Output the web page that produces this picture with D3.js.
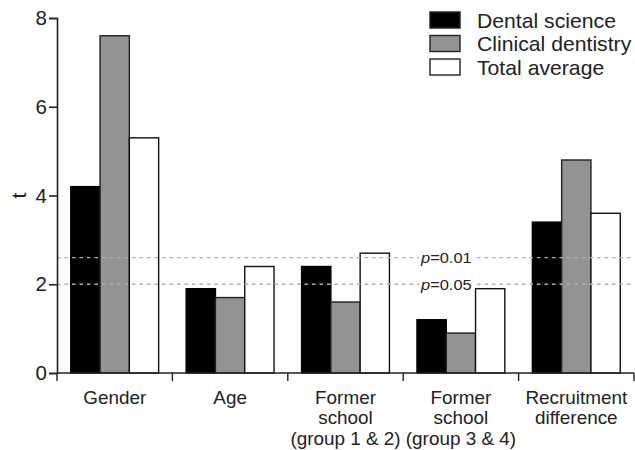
<!DOCTYPE html>
<html>
<head>
<meta charset="utf-8">
<script src="https://cdn.jsdelivr.net/npm/d3@7"></script>
<style>
  html, body { margin: 0; padding: 0; background: #fff; }
  svg text { font-family: "Liberation Sans", Arial, sans-serif; fill: #222; }
</style>
</head>
<body>
<svg id="chart" width="635" height="450"></svg>
<script>
// Categories and the t statistics for each group
const categories = ["Gender", "Age", "Former school 1&2", "Former school 3&4", "Recruitment difference"];
const categoryLabels = [
  ["Gender"],
  ["Age"],
  ["Former", "school", "(group 1 & 2)"],
  ["Former", "school", "(group 3 & 4)"],
  ["Recruitment", "difference"]
];
const seriesNames = ["Dental science", "Clinical dentistry", "Total average"];
const dentalScience = [4.2, 1.9, 2.4, 1.2, 3.4];
const clinicalDentistry = [7.6, 1.7, 1.6, 0.9, 4.8];
const totalAverage = [5.3, 2.4, 2.7, 1.9, 3.6];
const yTicks = [0, 2, 4, 6, 8];
// Critical t values
const thresholds = [
  { p: "0.01", t: 2.6 },
  { p: "0.05", t: 2.0 }
];

const seriesValues = [dentalScience, clinicalDentistry, totalAverage];
const fills = ["#000000", "#939396", "#ffffff"];
const strokes = ["#000000", "#222222", "#111111"];

const svg = d3.select("#chart");
const plotLeft = 57, plotRight = 634, plotTop = 18, plotBottom = 373;

const x = d3.scaleBand().domain(categories).range([plotLeft, plotRight]).padding(0);
const xs = d3.scaleBand().domain(seriesNames).range([0, x.bandwidth()])
  .paddingInner(0).paddingOuter(0.47);
const y = d3.scaleLinear().domain([0, 8]).range([plotBottom, plotTop]);

// Bars
const groups = svg.append("g").selectAll("g")
  .data(categories).join("g")
  .attr("transform", d => `translate(${x(d)},0)`);

groups.selectAll("rect")
  .data((c, i) => seriesNames.map((s, j) => ({ s, j, v: seriesValues[j][i] })))
  .join("rect")
  .attr("x", d => xs(d.s))
  .attr("y", d => y(d.v))
  .attr("width", xs.bandwidth())
  .attr("height", d => y(0) - y(d.v))
  .attr("fill", d => fills[d.j])
  .attr("stroke", d => strokes[d.j])
  .attr("stroke-width", 1.4);

// Significance lines
const th = svg.append("g");
th.selectAll("line").data(thresholds).join("line")
  .attr("x1", plotLeft).attr("x2", plotRight)
  .attr("y1", d => y(d.t)).attr("y2", d => y(d.t))
  .attr("stroke", "#b0b0b0").attr("stroke-width", 1.3)
  .attr("stroke-dasharray", "3.5,4");

const labelX = 421;
const lab = th.selectAll("g.plab").data(thresholds).join("g").attr("class", "plab");
lab.append("rect")
  .attr("x", labelX - 2).attr("y", d => y(d.t) - 8)
  .attr("width", 54).attr("height", 16).attr("fill", "#fff");
const pt = lab.append("text")
  .attr("transform", d => `translate(${labelX},${y(d.t) + 5.5}) scale(1.06,1)`)
  .attr("font-size", 15.5);
pt.append("tspan").attr("font-style", "italic").text("p");
pt.append("tspan").text(d => "=" + d.p);

// Y axis
const yAxis = svg.append("g")
  .attr("transform", `translate(${plotLeft},0)`)
  .call(d3.axisLeft(y).tickValues(yTicks).tickSize(8).tickPadding(2).tickFormat(d3.format("d")));
yAxis.select(".domain").attr("stroke", "#222").attr("stroke-width", 1.6);
yAxis.selectAll(".tick line").attr("stroke", "#222").attr("stroke-width", 1.6);
yAxis.selectAll(".tick text").attr("font-size", 20.5).attr("font-family", "Liberation Sans, Arial, sans-serif").attr("fill", "#222");

svg.append("text")
  .attr("transform", `translate(26,${(plotTop + plotBottom) / 2}) rotate(-90)`)
  .attr("text-anchor", "middle")
  .attr("font-size", 21)
  .text("t");

// X axis with ticks at group boundaries
const xAxis = svg.append("g");
xAxis.append("line")
  .attr("x1", plotLeft).attr("x2", plotRight).attr("y1", plotBottom).attr("y2", plotBottom)
  .attr("stroke", "#222").attr("stroke-width", 1.6);
const edges = categories.map(c => x(c)).concat([plotRight]);
xAxis.selectAll("line.edge").data(edges).join("line").attr("class", "edge")
  .attr("x1", d => d).attr("x2", d => d)
  .attr("y1", plotBottom).attr("y2", plotBottom + 8)
  .attr("stroke", "#222").attr("stroke-width", 1.4);

const xl = xAxis.selectAll("text.xl").data(categories).join("text").attr("class", "xl")
  .attr("text-anchor", "middle")
  .attr("font-size", 18)
  .attr("transform", d => `translate(${x(d) + x.bandwidth() / 2},${plotBottom + 31}) scale(1.05,1)`);
xl.selectAll("tspan").data((d, i) => categoryLabels[i]).join("tspan")
  .attr("x", 0).attr("y", (d, i) => i * 20.5)
  .text(d => d);

// Legend
const legend = svg.append("g").attr("transform", "translate(430,12)");
const items = legend.selectAll("g").data(seriesNames).join("g")
  .attr("transform", (d, i) => `translate(0,${i * 23.5})`);
items.append("rect")
  .attr("width", 30).attr("height", 16)
  .attr("fill", (d, i) => fills[i])
  .attr("stroke", "#222").attr("stroke-width", 1.4);
items.append("text")
  .attr("transform", "translate(47,15.5) scale(1.06,1)")
  .attr("font-size", 20)
  .text(d => d);
</script>
</body>
</html>
